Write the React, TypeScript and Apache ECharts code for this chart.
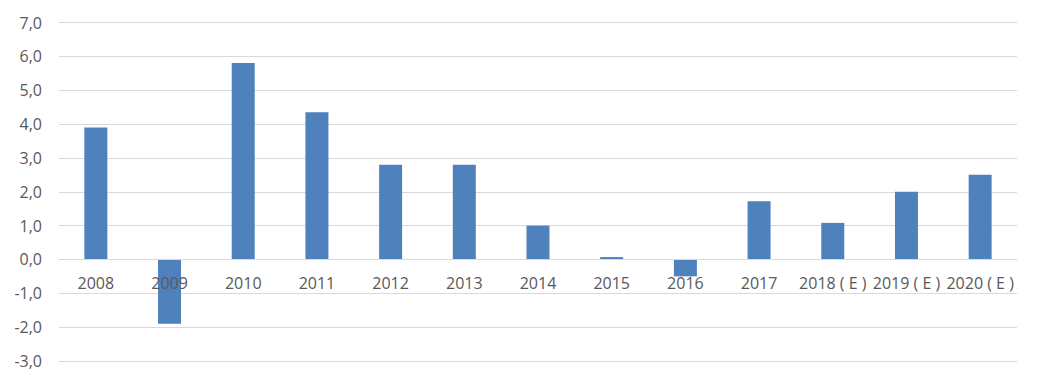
import React, { useEffect, useRef } from "react";
import * as echarts from "echarts";

const categories = ["2008", "2009", "2010", "2011", "2012", "2013", "2014", "2015", "2016", "2017", "2018 ( E )", "2019 ( E )", "2020 ( E )"];
const values = [3.9, -1.9, 5.8, 4.35, 2.8, 2.8, 1.0, 0.07, -0.5, 1.72, 1.08, 2.0, 2.5];
const yMin = -3;
const yMax = 7;
const yInterval = 1;

const W = 1039;
const H = 384;
const GRID_TOP = 22.5;
const GRID_BOTTOM = 23;

export default function App() {
  const ref = useRef<HTMLDivElement>(null);
  useEffect(() => {
    if (!ref.current) return;
    const chart = echarts.init(ref.current, undefined, { renderer: "svg" });
    const plotH = H - GRID_TOP - GRID_BOTTOM;
    const zeroFromBottom = (plotH * (0 - yMin)) / (yMax - yMin);
    chart.setOption({
      animation: false,
      grid: { left: 59, right: 22, top: GRID_TOP, bottom: GRID_BOTTOM, containLabel: false, outerBoundsMode: "none" },
      xAxis: {
        type: "category",
        data: categories,
        offset: -zeroFromBottom,
        z: 10,
        axisLine: { onZero: false, lineStyle: { color: "#d9d9d9", width: 1 } },
        axisTick: { show: false },
        axisLabel: {
          interval: 0,
          color: "#595959",
          fontSize: 16,
          fontFamily: "Open Sans",
          margin: 16,
        },
      },
      yAxis: {
        type: "value",
        min: yMin,
        max: yMax,
        interval: yInterval,
        axisLine: { show: false },
        axisTick: { show: false },
        splitLine: { lineStyle: { color: "#d9d9d9", width: 1 } },
        axisLabel: {
          color: "#595959",
          fontSize: 16,
          fontFamily: "Open Sans",
          margin: 17,
          formatter: (v: number) => v.toFixed(1).replace(".", ","),
        },
      },
      series: [
        {
          type: "bar",
          data: values,
          barWidth: 23,
          itemStyle: { color: "#4f81bd" },
        },
      ],
    });
    return () => chart.dispose();
  }, []);
  return <div ref={ref} style={{ position: "fixed", left: 0, top: 0, width: W, height: H, background: "#fff" }} />;
}
